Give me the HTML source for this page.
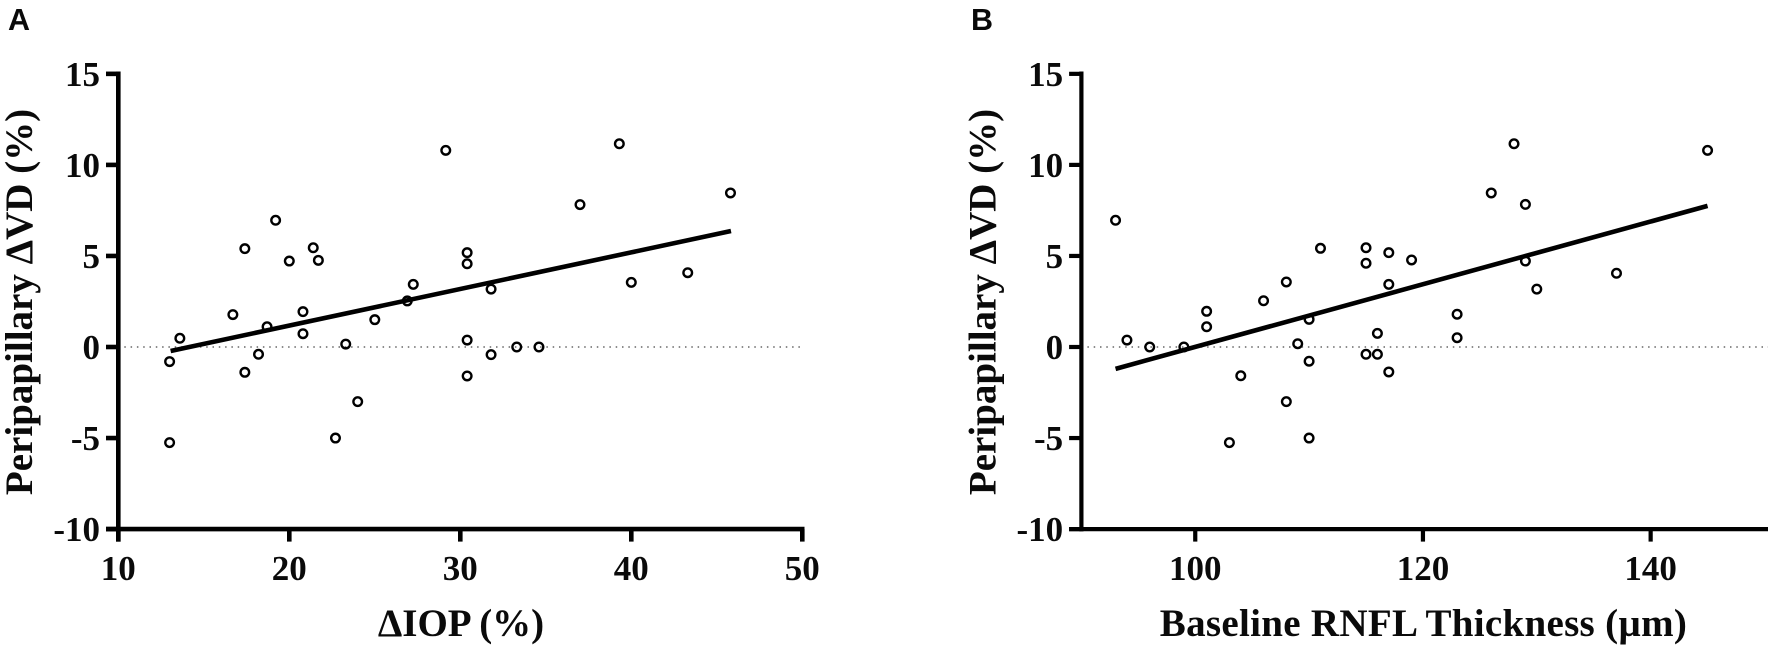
<!DOCTYPE html>
<html lang="en">
<head>
<meta charset="utf-8">
<title>Peripapillary VD scatter plots</title>
<style>
html,body{margin:0;padding:0;background:#fff;}
svg{display:block;}
text{font-family:"Liberation Serif",serif;font-weight:bold;fill:#0a0a0a;}
.panel-letter{font-family:"Liberation Sans",sans-serif;}
</style>
</head>
<body>
<svg id="chart" xmlns="http://www.w3.org/2000/svg" width="1772" height="649" viewBox="0 0 1772 649"></svg>
<script>
const yTicks = [15, 10, 5, 0, -5, -10];
const yAxisTitle = "Peripapillary \u0394VD (%)";

const panelATicks = [10, 20, 30, 40, 50];
const panelATitle = "\u0394IOP (%)";
const panelAX = [13.0, 13.0, 13.6, 16.7, 17.4, 17.4, 18.2, 18.7, 19.2, 20.0, 20.8, 20.8, 21.4, 21.7, 22.7, 23.3, 24.0, 25.0, 26.9, 27.25, 29.15, 30.4, 30.4, 30.4, 30.4, 31.8, 31.8, 33.3, 34.6, 37.0, 39.3, 40.0, 43.3, 45.8];
const panelAY = [-0.8, -5.25, 0.48, 1.78, 5.4, -1.39, -0.4, 1.11, 6.96, 4.72, 1.94, 0.73, 5.45, 4.76, -5.0, 0.16, -3.0, 1.5, 2.53, 3.44, 10.8, 5.18, 4.57, 0.38, -1.59, 3.18, -0.42, 0, 0, 7.82, 11.16, 3.55, 4.08, 8.46];
const panelAFitX = [13.06, 45.83];
const panelAFitY = [-0.22, 6.37];

const panelBTicks = [100, 120, 140];
const panelBTitle = "Baseline RNFL Thickness (\u00B5m)";
const panelBX = [93, 94, 96, 99, 101, 101, 103, 104, 106, 108, 108, 109, 110, 110, 110, 111, 115, 115, 115, 116, 116, 117, 117, 117, 119, 123, 123, 126, 128, 129, 129, 130, 137, 145];
const panelBY = [6.96, 0.38, 0, 0, 1.96, 1.11, -5.25, -1.58, 2.54, 3.57, -3.0, 0.18, 1.52, -0.78, -5.0, 5.42, 5.45, 4.6, -0.4, 0.75, -0.4, 5.18, 3.44, -1.37, 4.78, 1.8, 0.51, 8.46, 11.16, 7.83, 4.72, 3.18, 4.05, 10.8];
const panelBFitX = [93, 145];
const panelBFitY = [-1.2, 7.75];

const NS = "http://www.w3.org/2000/svg";
const svg = document.getElementById("chart");

function add(parent, tag, attrs) {
  const el = document.createElementNS(NS, tag);
  for (const k in attrs) el.setAttribute(k, attrs[k]);
  parent.appendChild(el);
  return el;
}

function yScale(v) {
  return 347 - 18.21 * v;
}

function drawPanel(cfg) {
  const g = add(svg, "g", {});
  
  
  const xScale = v => cfg.x0 + (v - cfg.xMin) * cfg.pxPerUnit;
  const axisY = yScale(-10);

  const letter = add(g, "text", {x: cfg.letterX, y: 30, "font-size": 30.5, "class": "panel-letter"});
  
  
  letter.textContent = cfg.letter;

  const zero = add(g, "line", {x1: cfg.x0 + 6, x2: cfg.xEnd, y1: yScale(0), y2: yScale(0), stroke: "#666", "stroke-width": 1.5, "stroke-dasharray": "1.5 4.8"});
  
  

  const yAxis = add(g, "line", {x1: cfg.x0, x2: cfg.x0, y1: yScale(15) - 2.3, y2: axisY + cfg.axisTail, stroke: "#000", "stroke-width": cfg.axisWidth});
  
  

  const xAxis = add(g, "line", {x1: cfg.x0 - 12.3, x2: cfg.xEnd, y1: axisY, y2: axisY, stroke: "#000", "stroke-width": cfg.axisWidth});
  
  

  yTicks.forEach(t => {
    const tick = add(g, "line", {x1: cfg.x0 - 12.3, x2: cfg.x0, y1: yScale(t), y2: yScale(t), stroke: "#000", "stroke-width": cfg.axisWidth});
    
    
    const label = add(g, "text", {x: cfg.x0 - 18.3, y: yScale(t) + 12, "font-size": 35, "text-anchor": "end"});
    
    
    label.textContent = t;
  });

  cfg.ticks.forEach(t => {
    const px = xScale(t);
    const tick = add(g, "line", {x1: px, x2: px, y1: axisY, y2: axisY + 12.5, stroke: "#000", "stroke-width": cfg.axisWidth});
    
    
    const label = add(g, "text", {x: px, y: 580, "font-size": 35, "text-anchor": "middle"});
    
    
    label.textContent = t;
  });

  const yTitle = add(g, "text", {transform: "translate(" + cfg.yTitleX + ",302) rotate(-90)", "font-size": 39, "text-anchor": "middle"});
  
  
  yTitle.textContent = yAxisTitle;

  const xTitle = add(g, "text", {x: cfg.xTitleX, y: 636, "font-size": 39, "text-anchor": "middle", "letter-spacing": cfg.xTitleSpacing});
  
  
  xTitle.textContent = cfg.title;

  cfg.xs.forEach((v, i) => {
    const c = add(g, "circle", {cx: xScale(v), cy: yScale(cfg.ys[i]), r: 4.3, fill: "none", stroke: "#000", "stroke-width": 2.4});
    
    
  });

  const fit = add(g, "line", {x1: xScale(cfg.fitX[0]), y1: yScale(cfg.fitY[0]), x2: xScale(cfg.fitX[1]), y2: yScale(cfg.fitY[1]), stroke: "#000", "stroke-width": 4.6});
  
  
}

drawPanel({
  name: "panel-a", letter: "A", letterX: 8,
  x0: 118.3, xMin: 10, pxPerUnit: 17.1, xEnd: 804.5, axisTail: 12.5, axisWidth: 4.6,
  ticks: panelATicks, title: panelATitle, xs: panelAX, ys: panelAY,
  fitX: panelAFitX, fitY: panelAFitY,
  yTitleX: 32, xTitleX: 461, xTitleSpacing: 0
});
drawPanel({
  name: "panel-b", letter: "B", letterX: 971,
  x0: 1081.4, xMin: 90, pxPerUnit: 11.385, xEnd: 1768, axisTail: 2.3, axisWidth: 4.2,
  ticks: panelBTicks, title: panelBTitle, xs: panelBX, ys: panelBY,
  fitX: panelBFitX, fitY: panelBFitY,
  yTitleX: 995.5, xTitleX: 1423.5, xTitleSpacing: 0.3
});
</script>
</body>
</html>
